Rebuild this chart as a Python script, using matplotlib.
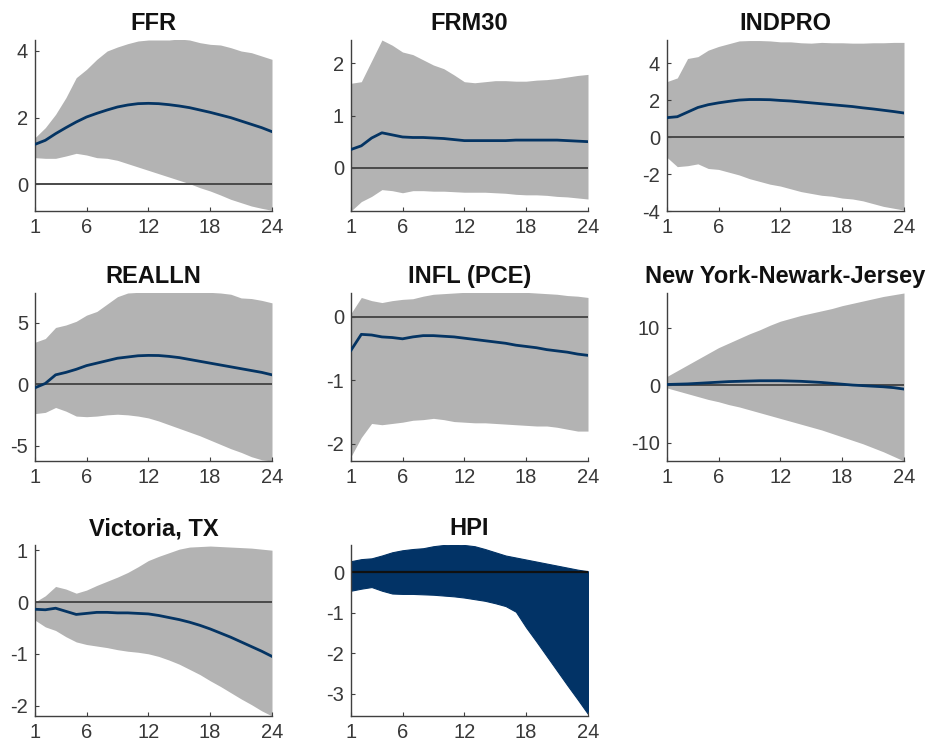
import matplotlib
matplotlib.use("Agg")
import matplotlib.pyplot as plt
import numpy as np

plt.rcParams['font.family'] = ['Liberation Sans', 'DejaVu Sans']

horizon = list(range(1, 25))
xticks = [1, 6, 12, 18, 24]

titles = ["FFR", "FRM30", "INDPRO", "REALLN", "INFL (PCE)",
          "New York-Newark-Jersey", "Victoria, TX", "HPI"]

ffr_mid = [1.2, 1.32, 1.52, 1.7, 1.87, 2.02, 2.13, 2.23, 2.32, 2.38, 2.42, 2.43,
           2.42, 2.39, 2.35, 2.3, 2.23, 2.16, 2.08, 2.0, 1.9, 1.8, 1.7, 1.58]
ffr_hi = [1.4, 1.7, 2.1, 2.6, 3.2, 3.45, 3.75, 4.0, 4.12, 4.22, 4.3, 4.33,
          4.33, 4.33, 4.36, 4.33, 4.25, 4.2, 4.18, 4.1, 4.0, 3.95, 3.85, 3.75]
ffr_lo = [0.8, 0.78, 0.78, 0.85, 0.93, 0.88, 0.8, 0.78, 0.72, 0.62, 0.52, 0.42,
          0.32, 0.22, 0.12, 0.02, -0.1, -0.2, -0.32, -0.45, -0.55, -0.65, -0.72, -0.78]

frm_mid = [0.35, 0.42, 0.57, 0.67, 0.63, 0.59, 0.58, 0.58, 0.57, 0.56, 0.54, 0.52,
           0.52, 0.52, 0.52, 0.52, 0.53, 0.53, 0.53, 0.53, 0.53, 0.52, 0.51, 0.5]
frm_hi = [1.62, 1.65, 2.05, 2.45, 2.35, 2.22, 2.17, 2.07, 1.97, 1.9, 1.78, 1.65,
          1.63, 1.65, 1.67, 1.67, 1.66, 1.66, 1.68, 1.69, 1.71, 1.74, 1.77, 1.79]
frm_lo = [-0.83, -0.65, -0.55, -0.42, -0.44, -0.48, -0.44, -0.44, -0.45, -0.45, -0.46, -0.47,
          -0.47, -0.47, -0.48, -0.49, -0.51, -0.52, -0.52, -0.53, -0.55, -0.56, -0.58, -0.6]

ind_mid = [1.05, 1.1, 1.35, 1.6, 1.75, 1.85, 1.93, 2.0, 2.03, 2.03, 2.02, 1.98,
           1.95, 1.9, 1.85, 1.8, 1.75, 1.7, 1.65, 1.58, 1.52, 1.45, 1.38, 1.3]
ind_hi = [3.0, 3.2, 4.25, 4.35, 4.7, 4.9, 5.05, 5.2, 5.22, 5.22, 5.2, 5.15,
          5.15, 5.1, 5.08, 5.12, 5.1, 5.1, 5.08, 5.08, 5.1, 5.1, 5.12, 5.12]
ind_lo = [-1.1, -1.6, -1.55, -1.45, -1.7, -1.75, -1.9, -2.05, -2.25, -2.4, -2.55, -2.65,
          -2.8, -2.95, -3.05, -3.15, -3.2, -3.3, -3.35, -3.45, -3.6, -3.75, -3.85, -3.95]

rea_mid = [-0.3, 0.05, 0.75, 0.95, 1.2, 1.5, 1.7, 1.9, 2.1, 2.2, 2.3, 2.33,
           2.32, 2.25, 2.15, 2.0, 1.85, 1.7, 1.55, 1.4, 1.25, 1.1, 0.95, 0.75]
rea_hi = [3.4, 3.7, 4.6, 4.8, 5.1, 5.6, 5.9, 6.5, 7.1, 7.4, 7.45, 7.45,
          7.45, 7.45, 7.45, 7.45, 7.45, 7.45, 7.4, 7.3, 7.0, 6.95, 6.8, 6.6]
rea_lo = [-2.4, -2.3, -1.9, -2.2, -2.6, -2.65, -2.6, -2.5, -2.45, -2.5, -2.6, -2.75,
          -3.0, -3.3, -3.6, -3.9, -4.2, -4.55, -4.9, -5.25, -5.55, -5.9, -6.15, -6.25]

inf_mid = [-0.53, -0.28, -0.29, -0.32, -0.33, -0.35, -0.32, -0.3, -0.3, -0.31, -0.32, -0.34,
           -0.36, -0.38, -0.4, -0.42, -0.45, -0.47, -0.49, -0.52, -0.54, -0.56, -0.59, -0.61]
inf_hi = [0.05, 0.3, 0.25, 0.22, 0.25, 0.27, 0.28, 0.32, 0.35, 0.36, 0.37, 0.38,
          0.38, 0.38, 0.38, 0.38, 0.38, 0.38, 0.37, 0.36, 0.35, 0.33, 0.32, 0.3]
inf_lo = [-2.2, -1.9, -1.68, -1.7, -1.68, -1.66, -1.63, -1.62, -1.6, -1.62, -1.65, -1.66,
          -1.67, -1.67, -1.68, -1.69, -1.7, -1.71, -1.72, -1.72, -1.74, -1.77, -1.8, -1.8]

ny_mid = [0.1, 0.15, 0.2, 0.3, 0.4, 0.5, 0.6, 0.65, 0.7, 0.75, 0.75, 0.75,
          0.7, 0.65, 0.55, 0.45, 0.3, 0.15, 0.0, -0.1, -0.2, -0.3, -0.45, -0.7]
ny_hi = [1.5, 2.5, 3.5, 4.5, 5.5, 6.5, 7.3, 8.1, 8.9, 9.6, 10.4, 11.1,
         11.6, 12.1, 12.5, 12.9, 13.3, 13.8, 14.2, 14.6, 15.0, 15.4, 15.7, 16.0]
ny_lo = [-0.5, -1.0, -1.5, -2.0, -2.5, -2.9, -3.4, -3.8, -4.3, -4.8, -5.3, -5.8,
         -6.3, -6.8, -7.3, -7.8, -8.4, -9.0, -9.6, -10.2, -10.9, -11.6, -12.4, -13.2]

vic_mid = [-0.14, -0.15, -0.12, -0.18, -0.24, -0.22, -0.2, -0.2, -0.21, -0.21, -0.22, -0.23,
           -0.26, -0.3, -0.34, -0.39, -0.45, -0.52, -0.6, -0.68, -0.77, -0.86, -0.95, -1.05]
vic_hi = [0.0, 0.12, 0.3, 0.25, 0.17, 0.23, 0.32, 0.4, 0.48, 0.57, 0.68, 0.8,
          0.88, 0.95, 1.02, 1.06, 1.07, 1.08, 1.07, 1.06, 1.05, 1.04, 1.02, 1.0]
vic_lo = [-0.35, -0.48, -0.55, -0.67, -0.77, -0.82, -0.85, -0.88, -0.92, -0.95, -0.97, -1.0,
          -1.05, -1.12, -1.2, -1.3, -1.4, -1.52, -1.63, -1.75, -1.87, -1.98, -2.1, -2.2]

hpi_hi = [0.28, 0.33, 0.35, 0.42, 0.5, 0.55, 0.58, 0.6, 0.65, 0.68, 0.7, 0.68,
          0.65, 0.58, 0.5, 0.42, 0.37, 0.32, 0.27, 0.22, 0.17, 0.12, 0.07, 0.03]
hpi_lo = [-0.45, -0.4, -0.36, -0.45, -0.52, -0.53, -0.53, -0.54, -0.55, -0.57, -0.59, -0.62,
          -0.66, -0.7, -0.76, -0.83, -0.97, -1.36, -1.71, -2.07, -2.43, -2.79, -3.14, -3.5]

panels = [
    (ffr_mid, ffr_lo, ffr_hi, (-0.8, 4.33), [0, 2, 4]),
    (frm_mid, frm_lo, frm_hi, (-0.83, 2.45), [0, 1, 2]),
    (ind_mid, ind_lo, ind_hi, (-4.0, 5.25), [-4, -2, 0, 2, 4]),
    (rea_mid, rea_lo, rea_hi, (-6.25, 7.4), [-5, 0, 5]),
    (inf_mid, inf_lo, inf_hi, (-2.27, 0.37), [-2, -1, 0]),
    (ny_mid, ny_lo, ny_hi, (-13.2, 16.0), [-10, 0, 10]),
    (vic_mid, vic_lo, vic_hi, (-2.2, 1.1), [-2, -1, 0, 1]),
    (None, hpi_lo, hpi_hi, (-3.55, 0.68), [-3, -2, -1, 0]),
]

W, H = 930, 744
fig = plt.figure(figsize=(W / 100, H / 100), dpi=100)

col_left = [35, 351, 667]
col_w = 237
row_top = [40, 293, 545]
row_bot = [211, 461, 716]

navy = '#043463'
band = '#b3b3b3'
axcol = '#404040'

for i, (mid, lo, hi, ylim, yt) in enumerate(panels):
    r, c = divmod(i, 3)
    ax = fig.add_axes([col_left[c] / W, 1 - row_bot[r] / H,
                       col_w / W, (row_bot[r] - row_top[r]) / H])
    if mid is None:
        ax.fill_between(horizon, lo, hi, color='#023366', linewidth=0.8,
                        edgecolor='#023366', zorder=1)
        ax.axhline(0, color='#101010', linewidth=1.6, zorder=2)
    else:
        ax.fill_between(horizon, lo, hi, color=band, linewidth=0, zorder=1)
        ax.axhline(0, color='#4a4a4a', linewidth=1.4, zorder=2)
        ax.plot(horizon, mid, color=navy, linewidth=2.0, zorder=3)
    ax.set_xlim(1, 24)
    ax.set_ylim(*ylim)
    ax.set_xticks(xticks)
    ax.set_yticks(yt)
    ax.set_yticklabels([str(v) for v in yt])
    for s in ['top', 'right']:
        ax.spines[s].set_visible(False)
    for s in ['left', 'bottom']:
        ax.spines[s].set_color(axcol)
        ax.spines[s].set_linewidth(1.0)
    ax.tick_params(direction='in', length=3, width=0.8, colors=axcol,
                   labelsize=14.5, labelcolor='#383838', pad=5)
    ax.set_title(titles[i], fontsize=17, fontweight='bold', pad=7,
                 color='#111111')

fig.savefig('out.png', dpi=100)
